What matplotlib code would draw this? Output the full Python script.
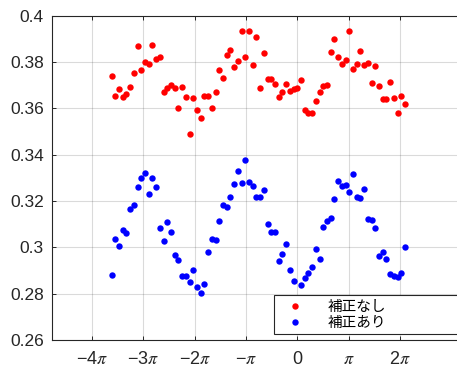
import numpy as np
import matplotlib
matplotlib.use("Agg")
import matplotlib.pyplot as plt

plt.rcParams['font.family'] = ['Liberation Sans', 'Noto Sans CJK JP', 'DejaVu Sans']
plt.rcParams['mathtext.fontset'] = 'stix'

# phase grid (rad), shared by both series
phase_start = -11.36
phase_stop = 6.58
n_points = 80

# measured values without correction
raw = [
    0.3740, 0.3652, 0.3684, 0.3648, 0.3661, 0.3691, 0.3750, 0.3869, 0.3766, 0.3800,
    0.3789, 0.3871, 0.3814, 0.3819, 0.3668, 0.3686, 0.3702, 0.3688, 0.3603, 0.3690,
    0.3648, 0.3487, 0.3643, 0.3593, 0.3557, 0.3651, 0.3653, 0.3603, 0.3670, 0.3765,
    0.3730, 0.3829, 0.3850, 0.3779, 0.3805, 0.3933, 0.3822, 0.3933, 0.3786, 0.3908,
    0.3686, 0.3838, 0.3727, 0.3727, 0.3703, 0.3647, 0.3670, 0.3704, 0.3674, 0.3685,
    0.3687, 0.3720, 0.3594, 0.3580, 0.3578, 0.3629, 0.3670, 0.3695, 0.3701, 0.3841,
    0.3897, 0.3821, 0.3789, 0.3806, 0.3933, 0.3768, 0.3790, 0.3847, 0.3785, 0.3795,
    0.3708, 0.3782, 0.3695, 0.3639, 0.3638, 0.3711, 0.3644, 0.3580, 0.3654, 0.3619,
]

# measured values with correction (one sample dropped)
corrected = [
    0.2882, 0.3037, 0.3007, 0.3073, 0.3062, 0.3165, 0.3181, 0.3260, 0.3297, 0.3320,
    0.3230, 0.3299, 0.3258, 0.3083, 0.3026, 0.3111, 0.3066, 0.2965, 0.2945, 0.2876,
    0.2876, 0.2852, 0.2901, 0.2827, 0.2801, 0.2840, 0.2981, 0.3036, 0.3031, 0.3115,
    0.3183, 0.3174, 0.3216, 0.3272, 0.3330, 0.3276, 0.3377, 0.3281, 0.3266, 0.3215,
    0.3217, 0.3249, 0.3101, 0.3066, 0.3066, 0.2942, 0.2970, 0.3014, 0.2904, 0.2853,
    np.nan, 0.2839, 0.2866, 0.2891, 0.2915, 0.2993, 0.2948, 0.3089, 0.3114, 0.3125,
    0.3208, 0.3286, 0.3263, 0.3270, 0.3239, 0.3315, 0.3217, 0.3214, 0.3250, 0.3122,
    0.3117, 0.3083, 0.2962, 0.2978, 0.2951, 0.2883, 0.2878, 0.2873, 0.2887, 0.3002,
]

series_labels = ['補正なし', '補正あり']
xtick_multiples = [-4, -3, -2, -1, 0, 1, 2]
xtick_labels = ['\u22124$\\pi$', '\u22123$\\pi$', '\u22122$\\pi$', '\u2212$\\pi$',
                '0', '$\\pi$', '2$\\pi$']
ytick_values = [0.26, 0.28, 0.30, 0.32, 0.34, 0.36, 0.38, 0.40]
ytick_labels = ['0.26', '0.28', '0.3', '0.32', '0.34', '0.36', '0.38', '0.4']

phase = np.linspace(phase_start, phase_stop, n_points)

W, H = 457, 369
fig = plt.figure(figsize=(W / 100, H / 100), dpi=100)
ax = fig.add_axes([52 / W, 29 / H, 409 / W, 324.5 / H])

ax_color = (0.15, 0.15, 0.15)
ax.plot(phase, raw, 'o', color='red', markersize=4.6, markeredgewidth=0,
        label=series_labels[0])
ax.plot(phase, corrected, 'o', color='blue', markersize=4.6, markeredgewidth=0,
        label=series_labels[1])

ax.set_xlim(-15, 10)
ax.set_ylim(0.26, 0.40)
ax.set_xticks([k * np.pi for k in xtick_multiples])
ax.set_xticklabels(xtick_labels)
ax.set_yticks(ytick_values)
ax.set_yticklabels(ytick_labels)

ax.grid(True, color=ax_color, alpha=0.17, linewidth=0.8)
ax.set_axisbelow(True)
for side in ax.spines.values():
    side.set_color(ax_color)
    side.set_linewidth(0.8)
ax.tick_params(direction='in', length=2.8, width=0.7, color=ax_color,
               top=True, right=True, labelcolor=ax_color)
ax.tick_params(axis='y', labelsize=12.5, pad=6)
ax.tick_params(axis='x', labelsize=13, pad=8)

leg = ax.legend(loc='lower left', bbox_to_anchor=(0.543, 0.0176, 0.455, 0.1234),
                mode='expand', borderaxespad=0, fontsize=10.5, frameon=True,
                fancybox=False, handlelength=2.3, handletextpad=1.1,
                borderpad=0.3, labelspacing=0.15)
leg.get_frame().set_edgecolor(ax_color)
leg.get_frame().set_linewidth(0.8)
leg.get_frame().set_alpha(1)

fig.savefig('out.png', dpi=100)
